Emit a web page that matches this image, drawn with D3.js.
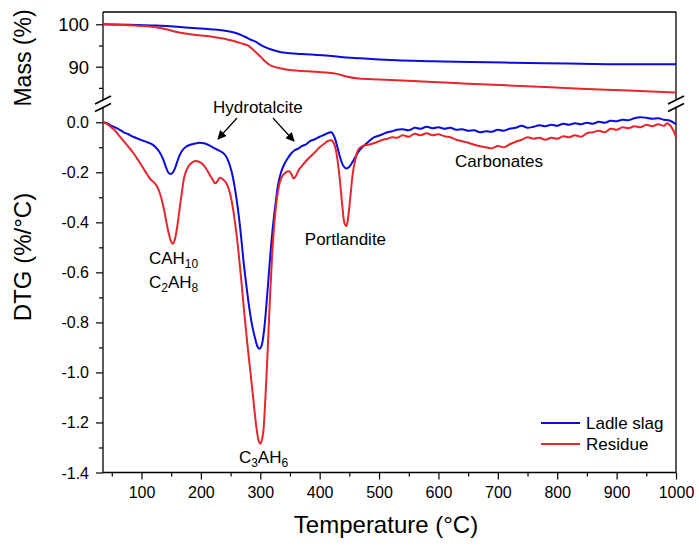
<!DOCTYPE html>
<html>
<head>
<meta charset="utf-8">
<script src="https://cdn.jsdelivr.net/npm/d3@7"></script>
<style>
  body { margin: 0; background: #fff; }
  svg { display: block; overflow: visible; }
</style>
</head>
<body>
<svg id="tga" width="699" height="547"></svg>
<script>
// ---- data ----
const ladleMassT = [35, 80, 124, 160, 186, 220, 248, 260, 267, 275, 285, 292, 300, 308, 317, 330, 342, 370, 404, 435, 466, 500, 529, 590, 653, 720, 778, 840, 903, 1000];
const ladleMass  = [100.0, 99.9, 99.7, 99.4, 99.1, 98.8, 98.3, 97.9, 97.5, 97.0, 96.3, 95.9, 95.2, 94.6, 94.1, 93.6, 93.3, 93.0, 92.7, 92.3, 92.0, 91.7, 91.5, 91.3, 91.1, 90.95, 90.8, 90.7, 90.6, 90.6];

const residueMassT = [35, 80, 124, 145, 161, 185, 217, 240, 254, 268, 279, 288, 298, 307, 316, 328, 341, 380, 410, 429, 445, 466, 500, 590, 650, 715, 780, 840, 920, 1000];
const residueMass  = [100.0, 99.8, 99.3, 98.7, 98.1, 97.6, 97.1, 96.6, 96.1, 95.5, 95.0, 94.0, 92.7, 91.4, 90.4, 89.8, 89.4, 88.9, 88.6, 88.3, 87.7, 87.2, 87.0, 86.4, 86.0, 85.6, 85.2, 84.8, 84.4, 83.9];

const ladleDtgT = [35, 42, 48, 55, 62, 70, 78, 86, 94, 103, 110, 118, 124, 130, 136, 141, 145, 149, 153, 157, 162, 168, 175, 182, 190, 198, 205, 212, 220, 228, 236, 242, 247, 252, 257, 262, 267, 272, 277, 282, 287, 292, 296, 299, 302, 306, 310, 314, 318, 322, 326, 330, 335, 340, 346, 352, 358, 364, 370, 377, 384, 392, 400, 408, 415, 420, 425, 430, 435, 440, 445, 450, 455, 461, 467, 474, 482, 490, 498, 506, 514, 522, 530, 540, 550, 560, 570, 580, 590, 600, 610, 620, 630, 640, 650, 660, 670, 680, 690, 700, 710, 720, 730, 740, 750, 760, 770, 780, 790, 800, 810, 820, 830, 840, 850, 860, 870, 880, 890, 900, 910, 920, 930, 940, 950, 960, 970, 980, 990, 1000];
const ladleDtg  = [0.000, -0.004, -0.012, -0.020, -0.028, -0.040, -0.048, -0.058, -0.066, -0.074, -0.080, -0.088, -0.100, -0.118, -0.145, -0.178, -0.200, -0.207, -0.200, -0.180, -0.145, -0.115, -0.098, -0.090, -0.085, -0.082, -0.084, -0.090, -0.100, -0.110, -0.120, -0.135, -0.160, -0.200, -0.260, -0.340, -0.440, -0.560, -0.660, -0.750, -0.820, -0.870, -0.900, -0.905, -0.895, -0.840, -0.740, -0.620, -0.500, -0.400, -0.320, -0.250, -0.200, -0.170, -0.145, -0.125, -0.112, -0.105, -0.095, -0.088, -0.075, -0.068, -0.058, -0.050, -0.042, -0.040, -0.060, -0.100, -0.145, -0.175, -0.185, -0.178, -0.160, -0.135, -0.112, -0.095, -0.078, -0.062, -0.055, -0.048, -0.040, -0.036, -0.030, -0.028, -0.032, -0.022, -0.026, -0.018, -0.024, -0.020, -0.026, -0.022, -0.030, -0.028, -0.034, -0.032, -0.040, -0.036, -0.038, -0.030, -0.034, -0.026, -0.022, -0.014, -0.022, -0.018, -0.012, -0.016, -0.010, -0.014, -0.006, -0.010, -0.004, -0.008, -0.002, -0.006, 0.002, -0.002, 0.006, 0.004, 0.010, 0.008, 0.016, 0.020, 0.018, 0.014, 0.016, 0.010, 0.006, -0.008];

const residueDtgT = [35, 42, 48, 55, 62, 70, 78, 86, 94, 102, 110, 116, 122, 128, 133, 138, 142, 146, 150, 153, 156, 160, 164, 168, 172, 177, 183, 190, 197, 204, 210, 215, 220, 224, 228, 232, 237, 243, 248, 253, 258, 263, 268, 273, 278, 283, 288, 292, 295, 298, 300, 302, 305, 308, 312, 316, 320, 324, 328, 333, 338, 343, 348, 352, 356, 360, 365, 370, 377, 384, 392, 400, 408, 414, 420, 425, 430, 434, 438, 442, 445, 448, 452, 456, 460, 465, 470, 476, 482, 490, 498, 506, 514, 522, 530, 540, 550, 560, 570, 580, 590, 600, 610, 620, 630, 640, 650, 660, 670, 680, 690, 700, 710, 720, 730, 740, 750, 760, 770, 780, 790, 800, 810, 820, 830, 840, 850, 860, 870, 880, 890, 900, 910, 920, 930, 940, 950, 960, 970, 980, 985, 990, 995, 1000];
const residueDtg  = [0.000, -0.006, -0.018, -0.032, -0.052, -0.075, -0.098, -0.122, -0.150, -0.180, -0.210, -0.230, -0.242, -0.265, -0.300, -0.350, -0.400, -0.445, -0.478, -0.486, -0.470, -0.420, -0.350, -0.280, -0.220, -0.185, -0.165, -0.155, -0.158, -0.170, -0.190, -0.211, -0.230, -0.244, -0.235, -0.222, -0.228, -0.244, -0.275, -0.330, -0.410, -0.510, -0.630, -0.760, -0.880, -0.990, -1.100, -1.190, -1.245, -1.278, -1.285, -1.276, -1.240, -1.130, -0.940, -0.720, -0.530, -0.395, -0.305, -0.240, -0.212, -0.200, -0.196, -0.205, -0.225, -0.215, -0.190, -0.175, -0.155, -0.138, -0.120, -0.100, -0.085, -0.075, -0.072, -0.090, -0.150, -0.230, -0.330, -0.405, -0.415, -0.380, -0.290, -0.200, -0.150, -0.110, -0.098, -0.092, -0.090, -0.085, -0.078, -0.070, -0.066, -0.060, -0.062, -0.052, -0.058, -0.046, -0.052, -0.044, -0.052, -0.048, -0.056, -0.060, -0.070, -0.076, -0.082, -0.090, -0.096, -0.100, -0.104, -0.095, -0.100, -0.088, -0.078, -0.070, -0.060, -0.066, -0.062, -0.070, -0.062, -0.066, -0.056, -0.060, -0.052, -0.058, -0.044, -0.040, -0.034, -0.040, -0.026, -0.030, -0.020, -0.024, -0.016, -0.020, -0.010, -0.016, -0.008, -0.014, -0.004, -0.012, -0.030, -0.060];

const xTicks = [100, 200, 300, 400, 500, 600, 700, 800, 900, 1000];
const xMinorTicks = [50, 150, 250, 350, 450, 550, 650, 750, 850, 950];
const massTicks = [90, 100];
const massMinorTicks = [85, 95];
const dtgTicks = [0, -0.2, -0.4, -0.6, -0.8, -1.0, -1.2, -1.4];
const dtgMinorTicks = [-0.1, -0.3, -0.5, -0.7, -0.9, -1.1, -1.3];

const series = [
  { name: 'Ladle slag', color: '#0b0bdc', massT: ladleMassT, mass: ladleMass, dtgT: ladleDtgT, dtg: ladleDtg },
  { name: 'Residue', color: '#e5262b', massT: residueMassT, mass: residueMass, dtgT: residueDtgT, dtg: residueDtg }
];

// ---- layout ----
const svg = d3.select('#tga');
const margin = { left: 103, right: 23, top: 12, bottom: 74.5 };
const width = +svg.attr('width');
const height = +svg.attr('height');
const innerWidth = width - margin.left - margin.right;
const innerHeight = height - margin.top - margin.bottom;
const massBottom = 88;     // end of upper layer
const dtgTop = 95.5;       // start of lower layer
const font = 'Arial, "Liberation Sans", sans-serif';

const g = svg.append('g')
  .attr('transform', `translate(${margin.left},${margin.top})`);

const xScale = d3.scaleLinear().domain([35.2, 1000]).range([0, innerWidth]);
const yMass = d3.scaleLinear().domain([82.14, 102.9]).range([massBottom, 0]);
const yDtg = d3.scaleLinear().domain([-1.4, 0.059]).range([innerHeight, dtgTop]);

// ---- axes ----
const xAxisG = g.append('g').attr('transform', `translate(0,${innerHeight})`);
xAxisG.call(d3.axisBottom(xScale).tickValues(xTicks).tickSize(7).tickPadding(7).tickFormat(d => d));
xAxisG.append('g').attr('class', 'minor')
  .call(d3.axisBottom(xScale).tickValues(xMinorTicks).tickSize(4).tickFormat(''));

const massAxisG = g.append('g');
massAxisG.call(d3.axisLeft(yMass).tickValues(massTicks).tickSize(7).tickPadding(7).tickFormat(d => d));
massAxisG.append('g').attr('class', 'minor')
  .call(d3.axisLeft(yMass).tickValues(massMinorTicks).tickSize(4).tickFormat(''));

const dtgAxisG = g.append('g');
dtgAxisG.call(d3.axisLeft(yDtg).tickValues(dtgTicks).tickSize(7).tickPadding(7).tickFormat(d => d.toFixed(1)));
dtgAxisG.append('g').attr('class', 'minor')
  .call(d3.axisLeft(yDtg).tickValues(dtgMinorTicks).tickSize(4).tickFormat(''));

g.selectAll('.minor text').remove();
g.selectAll('.domain').remove();
g.selectAll('.tick line').attr('stroke', '#000').attr('stroke-width', 1.2);
xAxisG.selectAll('text').attr('font-size', 16).attr('dy', null).attr('y', 25);
dtgAxisG.selectAll('text').attr('font-size', 16).attr('dy', null).attr('y', 5.5);
massAxisG.selectAll('text').attr('font-size', 18.5).attr('dy', null).attr('y', 6.5);

// frame with axis break
const frame = g.append('g').attr('stroke', '#000').attr('stroke-width', 1.3).attr('fill', 'none');
frame.append('line').attr('x1', 0).attr('x2', innerWidth).attr('y1', 0).attr('y2', 0);
frame.append('line').attr('x1', 0).attr('x2', innerWidth).attr('y1', innerHeight).attr('y2', innerHeight);
[0, innerWidth].forEach(xx => {
  frame.append('line').attr('x1', xx).attr('x2', xx).attr('y1', 0).attr('y2', massBottom);
  frame.append('line').attr('x1', xx).attr('x2', xx).attr('y1', dtgTop).attr('y2', innerHeight);
  [massBottom, dtgTop].forEach(yy => {
    frame.append('line')
      .attr('x1', xx - 8).attr('y1', yy + 4)
      .attr('x2', xx + 8).attr('y2', yy - 4)
      .attr('stroke-width', 1.6);
  });
});

// ---- curves ----
const massLine = d3.line().curve(d3.curveMonotoneX);
const dtgLine = d3.line().curve(d3.curveCatmullRom.alpha(0.5));

series.forEach(s => {
  g.append('path')
    .datum(s.massT.map((t, i) => [xScale(t), yMass(s.mass[i])]))
    .attr('fill', 'none')
    .attr('stroke', s.color)
    .attr('stroke-width', 2)
    .attr('d', massLine);
  g.append('path')
    .datum(s.dtgT.map((t, i) => [xScale(t), yDtg(s.dtg[i])]))
    .attr('fill', 'none')
    .attr('stroke', s.color)
    .attr('stroke-width', 2)
    .attr('stroke-linejoin', 'round')
    .attr('d', dtgLine);
});

// ---- annotations ----
const notes = g.append('g');

notes.append('text')
  .attr('x', xScale(296)).attr('y', yDtg(0.037))
  .attr('font-size', 17)
  .attr('text-anchor', 'middle')
  .text('Hydrotalcite');

svg.append('defs').append('marker')
  .attr('id', 'head')
  .attr('viewBox', '0 0 10 10')
  .attr('refX', 9).attr('refY', 5)
  .attr('markerWidth', 9).attr('markerHeight', 9)
  .attr('markerUnits', 'userSpaceOnUse')
  .attr('orient', 'auto')
  .append('path').attr('d', 'M0,0 L10,5 L0,10 Z').attr('fill', '#000');

[[260.8, 0.017, 228.8, -0.067], [321.4, 0.017, 356.8, -0.075]].forEach(a => {
  notes.append('line')
    .attr('x1', xScale(a[0])).attr('y1', yDtg(a[1]))
    .attr('x2', xScale(a[2])).attr('y2', yDtg(a[3]))
    .attr('stroke', '#000').attr('stroke-width', 1.2)
    .attr('marker-end', 'url(#head)');
});

// chemical labels with subscripts: [text, isSubscript] pieces
const formula = (T, v, parts) => {
  const t = notes.append('text').attr('x', xScale(T)).attr('y', yDtg(v)).attr('font-size', 17);
  let down = false;
  parts.forEach(([str, sub]) => {
    const ts = t.append('tspan').text(str);
    if (sub) { ts.attr('font-size', 12); if (!down) ts.attr('dy', 4); down = true; }
    else if (down) { ts.attr('dy', -4); down = false; }
  });
};
formula(112.6, -0.567, [['CAH', false], ['10', true]]);
formula(112.6, -0.663, [['C', false], ['2', true], ['AH', false], ['8', true]]);
formula(264, -1.363, [['C', false], ['3', true], ['AH', false], ['6', true]]);

notes.append('text').attr('x', xScale(375)).attr('y', yDtg(-0.491)).attr('font-size', 17).text('Portlandite');
notes.append('text').attr('x', xScale(628)).attr('y', yDtg(-0.179)).attr('font-size', 17).text('Carbonates');

// ---- legend ----
const legend = g.append('g').attr('transform', `translate(${538 - margin.left},${411 - margin.top})`);
series.forEach((s, i) => {
  const row = legend.append('g').attr('transform', `translate(0,${i * 21})`);
  row.append('line').attr('x1', 3).attr('x2', 42).attr('y1', 12).attr('y2', 12)
    .attr('stroke', s.color).attr('stroke-width', 2);
  row.append('text').attr('x', 48).attr('y', 18).attr('font-size', 17).text(s.name);
});

// ---- axis titles ----
svg.append('text')
  .attr('transform', 'translate(31,58) rotate(-90)')
  .attr('text-anchor', 'middle')
  .attr('font-size', 23)
  .text('Mass (%)');

svg.append('text')
  .attr('transform', 'translate(31,257) rotate(-90)')
  .attr('text-anchor', 'middle')
  .attr('font-size', 24)
  .text('DTG (%/°C)');

svg.append('text')
  .attr('x', 386).attr('y', 533)
  .attr('text-anchor', 'middle')
  .attr('font-size', 24)
  .text('Temperature (°C)');

svg.selectAll('text').style('font-family', font).attr('fill', '#000');
</script>
</body>
</html>
